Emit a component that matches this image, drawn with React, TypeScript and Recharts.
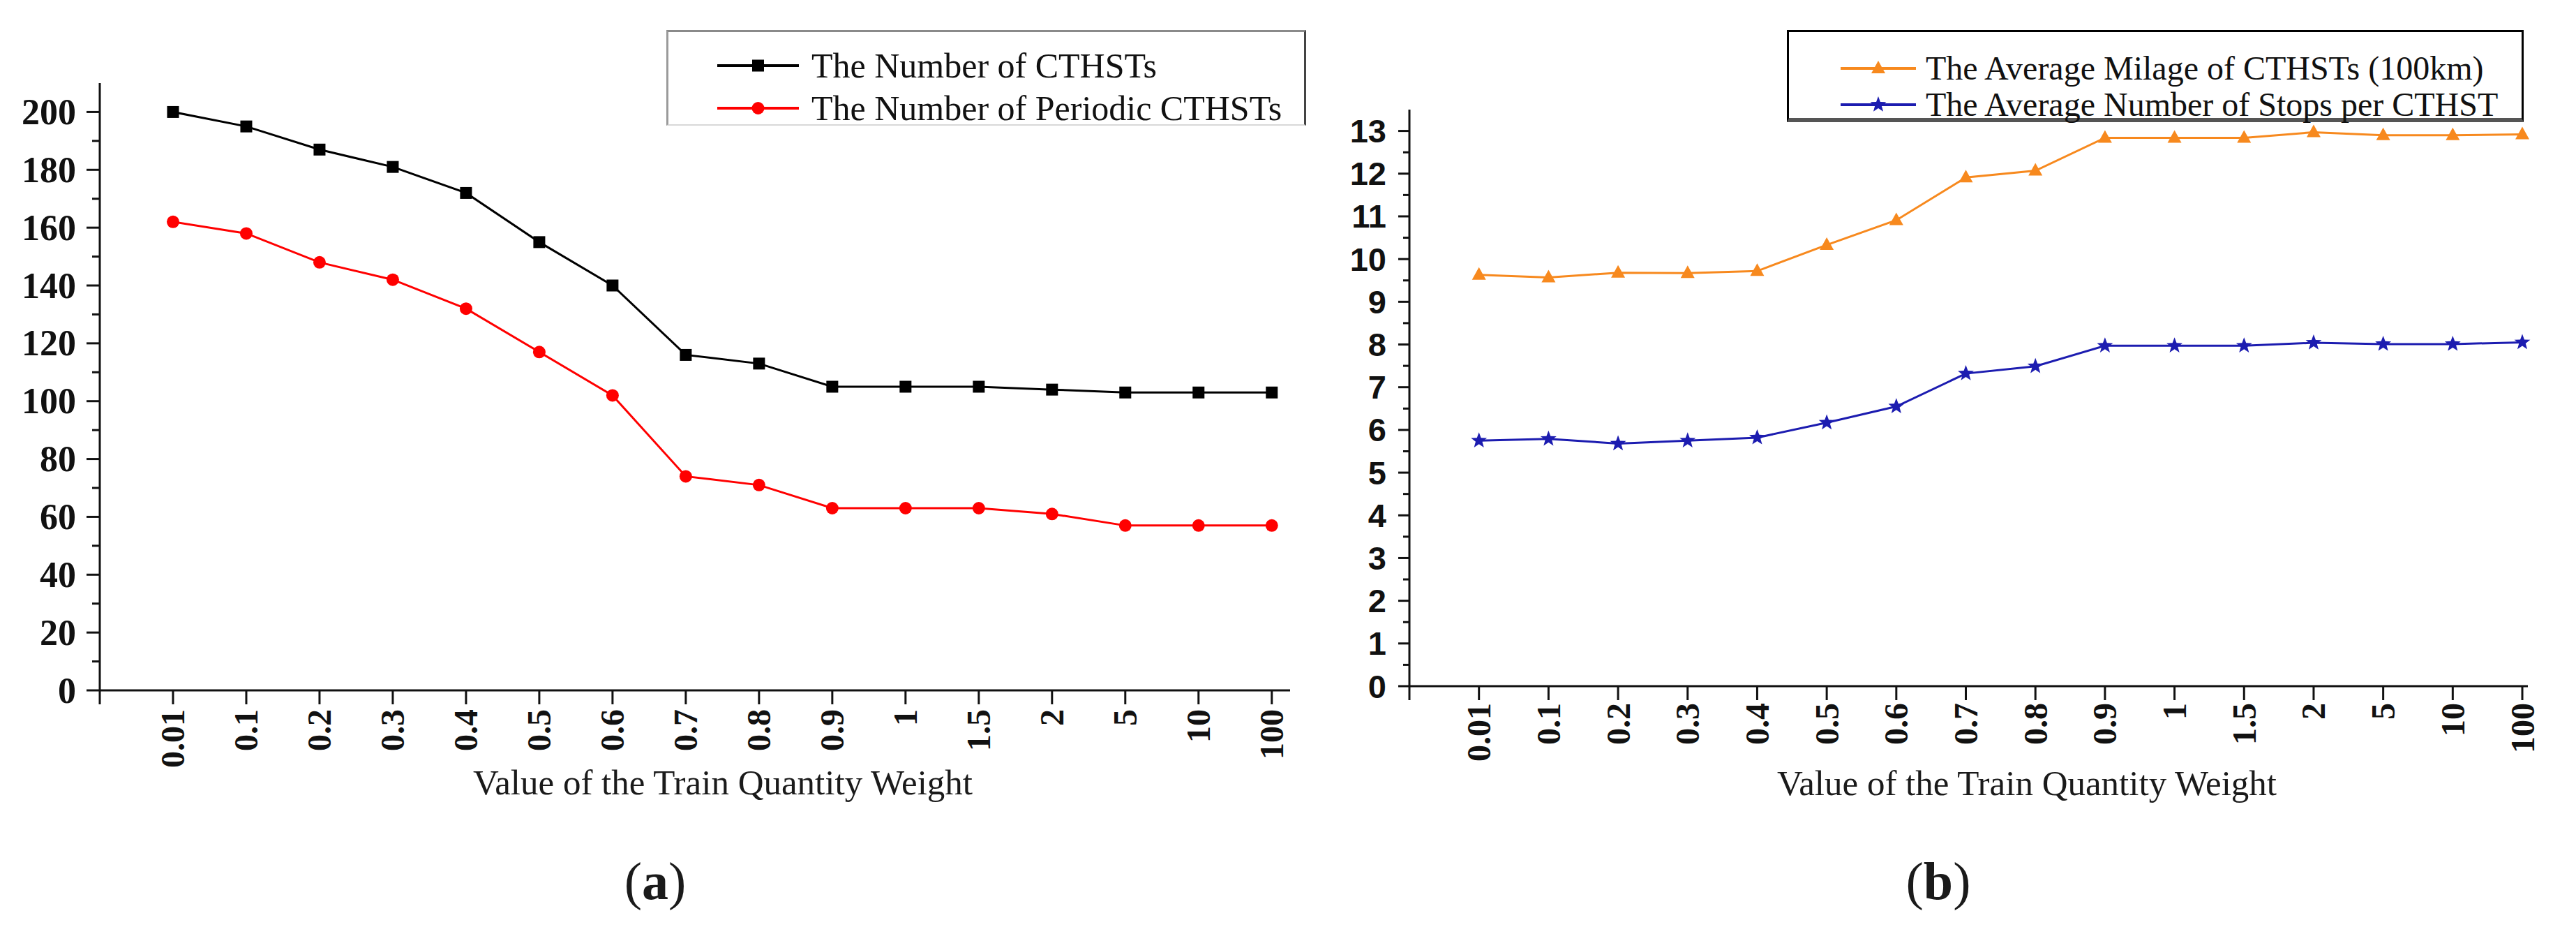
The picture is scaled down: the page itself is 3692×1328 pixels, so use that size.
import React from "react";
import { LineChart, Line, XAxis, YAxis, Legend } from "recharts";

// weights on the x axis (both panels)
const weights = ["0.01", "0.1", "0.2", "0.3", "0.4", "0.5", "0.6", "0.7", "0.8", "0.9", "1", "1.5", "2", "5", "10", "100"];

// panel (a)
const cthstCount = [200, 195, 187, 181, 172, 155, 140, 116, 113, 105, 105, 105, 104, 103, 103, 103];
const periodicCount = [162, 158, 148, 142, 132, 117, 102, 74, 71, 63, 63, 63, 61, 57, 57, 57];

// panel (b)
const avgMileage = [9.63, 9.57, 9.68, 9.67, 9.72, 10.33, 10.91, 11.91, 12.07, 12.84, 12.84, 12.84, 12.97, 12.9, 12.9, 12.92];
const avgStops = [5.75, 5.79, 5.68, 5.75, 5.82, 6.17, 6.55, 7.32, 7.49, 7.97, 7.97, 7.97, 8.04, 8.01, 8.01, 8.05];

// ticks
const xTicks = [-1, 0, 1, 2, 3, 4, 5, 6, 7, 8, 9, 10, 11, 12, 13, 14, 15];
const countTicks = [0, 10, 20, 30, 40, 50, 60, 70, 80, 90, 100, 110, 120, 130, 140, 150, 160, 170, 180, 190, 200];
const countLabels = [0, 20, 40, 60, 80, 100, 120, 140, 160, 180, 200];
const ratioTicks = [0, 0.5, 1, 1.5, 2, 2.5, 3, 3.5, 4, 4.5, 5, 5.5, 6, 6.5, 7, 7.5, 8, 8.5, 9, 9.5, 10, 10.5, 11, 11.5, 12, 12.5, 13];
const ratioLabels = [0, 1, 2, 3, 4, 5, 6, 7, 8, 9, 10, 11, 12, 13];

const dataA = weights.map((w, i) => ({ i, w, total: cthstCount[i], periodic: periodicCount[i] }));
const dataB = weights.map((w, i) => ({ i, w, mileage: avgMileage[i], stops: avgStops[i] }));

const SERIF = "'Liberation Serif', 'Times New Roman', serif";
const SANS = "'Liberation Sans', Arial, sans-serif";
const INK = "#111";

type MarkerKind = "square" | "circle" | "triangle" | "star";

function Marker({ kind, cx, cy, color }: { kind: MarkerKind; cx: number; cy: number; color: string }) {
  if (kind === "square") return <rect x={cx - 8.5} y={cy - 8.5} width={17} height={17} fill={color} />;
  if (kind === "circle") return <circle cx={cx} cy={cy} r={9} fill={color} />;
  if (kind === "triangle")
    return <polygon points={`${cx},${cy - 11} ${cx - 10},${cy + 7} ${cx + 10},${cy + 7}`} fill={color} />;
  const pts: string[] = [];
  for (let k = 0; k < 10; k++) {
    const r = k % 2 === 0 ? 12 : 5;
    const a = -Math.PI / 2 + (k * Math.PI) / 5;
    pts.push(`${cx + r * Math.cos(a)},${cy + r * Math.sin(a)}`);
  }
  return <polygon points={pts.join(" ")} fill={color} />;
}

const dotOf = (kind: MarkerKind, color: string) => (p: any) =>
  <Marker key={`${kind}-${p.index}`} kind={kind} cx={p.cx} cy={p.cy} color={color} />;

function makeYTick(labels: number[], font: string, size: number, majorLen: number, minorLen: number, gap: number) {
  return (props: any) => {
    const { x, y, payload } = props;
    const major = labels.includes(payload.value);
    const len = major ? majorLen : minorLen;
    return (
      <g>
        <line x1={x - len} x2={x} y1={y} y2={y} stroke={INK} strokeWidth={3} />
        {major && (
          <text x={x - majorLen - gap} y={y} textAnchor="end" dominantBaseline="central"
            fontFamily={font} fontWeight="bold" fontSize={size} fill={INK}>
            {payload.value}
          </text>
        )}
      </g>
    );
  };
}

function makeXTick(len: number, gap: number) {
  return (props: any) => {
    const { x, y, payload } = props;
    const label = weights[payload.value] ?? "";
    const ty = y + len + gap;
    return (
      <g>
        <line x1={x} x2={x} y1={y} y2={y + len} stroke={INK} strokeWidth={3} />
        {label && (
          <text x={x} y={ty} transform={`rotate(-90 ${x} ${ty})`} textAnchor="end" dominantBaseline="central"
            fontFamily={SERIF} fontWeight="bold" fontSize={48} fill={INK}>
            {label}
          </text>
        )}
      </g>
    );
  };
}

const markerOf: Record<string, MarkerKind> = { total: "square", periodic: "circle", mileage: "triangle", stops: "star" };

function makeLegend(o: { w: number; h: number; border: React.CSSProperties; rows: number[]; lineX: number; lineLen: number; textX: number; size: number }) {
  return (props: any) => (
    <div style={{ position: "relative", width: o.w, height: o.h, boxSizing: "border-box", background: "#fff", ...o.border }}>
      {(props.payload || []).map((e: any, k: number) => (
        <div key={e.value} style={{ position: "absolute", left: 0, top: o.rows[k] - 30, height: 60, width: o.w }}>
          <svg style={{ position: "absolute", left: o.lineX, top: 10 }} width={o.lineLen} height={40}>
            <line x1={0} x2={o.lineLen} y1={20} y2={20} stroke={e.color} strokeWidth={4} />
            <Marker kind={markerOf[e.dataKey]} cx={o.lineLen / 2} cy={20} color={e.color} />
          </svg>
          <span style={{ position: "absolute", left: o.textX, top: 0, lineHeight: "60px", fontFamily: SERIF, fontSize: o.size, color: INK, whiteSpace: "nowrap" }}>
            {e.value}
          </span>
        </div>
      ))}
    </div>
  );
}

const caption = (text: React.ReactNode, cx: number, cy: number, size: number, extra: React.CSSProperties = {}) => (
  <div style={{ position: "absolute", left: cx - 600, width: 1200, top: cy - size / 2, lineHeight: `${size}px`, textAlign: "center", fontFamily: SERIF, fontSize: size, color: "#1a1a1a", whiteSpace: "nowrap", ...extra }}>
    {text}
  </div>
);

export default function App() {
  return (
    <div style={{ position: "absolute", left: 0, top: 0, width: 3692, height: 1328, background: "#fff", overflow: "hidden" }}>
      <div style={{ position: "absolute", left: 0, top: 0 }}>
        <LineChart width={1880} height={1328} data={dataA} margin={{ top: 119, right: 31, left: 0, bottom: 189 }}>
          <XAxis dataKey="i" type="number" domain={[-1, 15.25]} ticks={xTicks} interval={0} height={150}
            axisLine={{ stroke: INK, strokeWidth: 3 }} tickLine={false} tickSize={0} tickMargin={0} tick={makeXTick(20, 7)} />
          <YAxis type="number" domain={[0, 210]} ticks={countTicks} interval={0} width={143}
            axisLine={{ stroke: INK, strokeWidth: 3 }} tickLine={false} tickSize={0} tickMargin={0}
            tick={makeYTick(countLabels, SERIF, 52, 19, 11, 15)} />
          <Legend layout="vertical" align="center" verticalAlign="middle"
            wrapperStyle={{ left: 955, top: 43, width: 917, height: 137 }}
            content={makeLegend({ w: 917, h: 137, border: { borderTop: "3px solid #8a8a8a", borderLeft: "3px solid #9a9a9a", borderRight: "3px solid #444", borderBottom: "2px solid #d8d8d8" }, rows: [48, 109], lineX: 70, lineLen: 117, textX: 205, size: 50 })} />
          <Line dataKey="total" name="The Number of CTHSTs" stroke="#000" strokeWidth={3} dot={dotOf("square", "#000")} isAnimationActive={false} />
          <Line dataKey="periodic" name="The Number of Periodic CTHSTs" stroke="#ff0000" strokeWidth={3} dot={dotOf("circle", "#ff0000")} isAnimationActive={false} />
        </LineChart>
      </div>
      <div style={{ position: "absolute", left: 1880, top: 0 }}>
        <LineChart width={1812} height={1328} data={dataB} margin={{ top: 157, right: 69, left: 0, bottom: 195 }}>
          <XAxis dataKey="i" type="number" domain={[-1, 15.08]} ticks={xTicks} interval={0} height={150}
            axisLine={{ stroke: INK, strokeWidth: 3 }} tickLine={false} tickSize={0} tickMargin={0} tick={makeXTick(20, 4)} />
          <YAxis type="number" domain={[0, 13.5]} ticks={ratioTicks} interval={0} width={140}
            axisLine={{ stroke: INK, strokeWidth: 3 }} tickLine={false} tickSize={0} tickMargin={0}
            tick={makeYTick(ratioLabels, SANS, 47, 16, 9, 17)} />
          <Legend layout="vertical" align="center" verticalAlign="middle"
            wrapperStyle={{ left: 681, top: 43, width: 1056, height: 132 }}
            content={makeLegend({ w: 1056, h: 132, border: { border: "3px solid #000", borderBottom: "6px solid #555" }, rows: [52, 104], lineX: 74, lineLen: 108, textX: 196, size: 48 })} />
          <Line dataKey="mileage" name="The Average Milage of CTHSTs (100km)" stroke="#f7891e" strokeWidth={3} dot={dotOf("triangle", "#f7891e")} isAnimationActive={false} />
          <Line dataKey="stops" name="The Average Number of Stops per CTHST" stroke="#1c1cb0" strokeWidth={3} dot={dotOf("star", "#1c1cb0")} isAnimationActive={false} />
        </LineChart>
      </div>
      {caption("Value of the Train Quantity Weight", 1036, 1121, 51)}
      {caption("Value of the Train Quantity Weight", 2905, 1122, 51)}
      {caption(<span>(<b>a</b>)</span>, 939, 1262, 76)}
      {caption(<span>(<b>b</b>)</span>, 2778, 1262, 76)}
    </div>
  );
}
